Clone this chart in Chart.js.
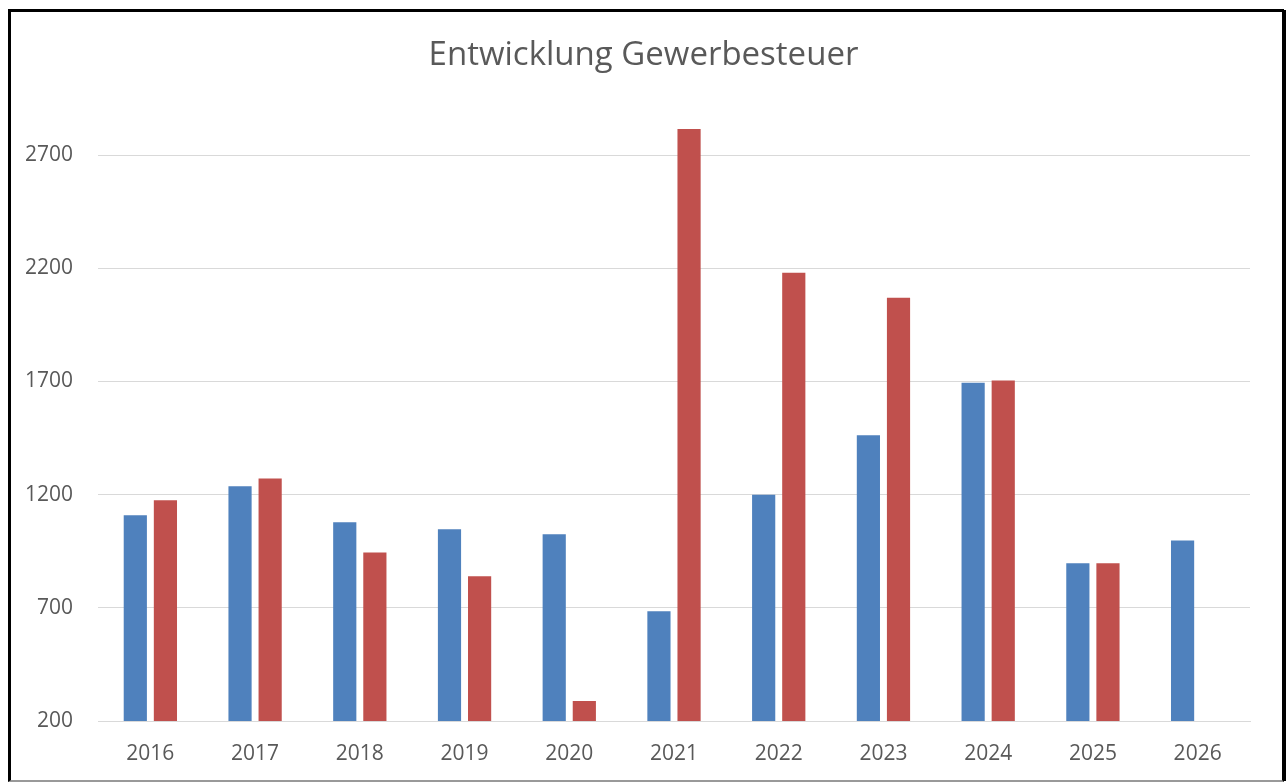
<!DOCTYPE html>
<html>
<head>
<meta charset="utf-8">
<script src="https://cdn.jsdelivr.net/npm/chart.js@4"></script>
<style>
  html, body { margin: 0; padding: 0; background: #fff; }
  #wrap { position: relative; width: 1287px; height: 783px; }
  #frame {
    position: absolute; left: 8px; top: 9px; width: 1271px; height: 768px;
    border-top: 3px solid #000; border-left: 3px solid #000; border-right: 2px solid #000;
    border-bottom: 2px solid #999; box-shadow: 3px 0 0 -1px #000;
    pointer-events: none;
  }
</style>
</head>
<body>
<div id="wrap">
  <canvas id="chart" width="1287" height="783"></canvas>
  <div id="frame"></div>
</div>
<script>
// Werte
let years = ['2016', '2017', '2018', '2019', '2020', '2021', '2022', '2023', '2024', '2025', '2026'];
let seriesBlue = [1109, 1237, 1078, 1047, 1025, 685, 1200, 1462, 1695, 897, 998];
let seriesRed = [1175, 1272, 945, 840, 288, 2816, 2181, 2070, 1704, 897, null];
let yTicks = [200, 700, 1200, 1700, 2200, 2700];

let font = "'Open Sans', 'Liberation Sans', sans-serif";
let grey = '#595959';

// Titel über die ganze Breite zentrieren, nicht nur über den Bereich ohne Padding
let centerTitle = {
    id: 'centerTitle',
    afterLayout: (c) => {
        c.titleBlock.left = 0;
        c.titleBlock.right = c.width;
        c.titleBlock.width = c.width;
    }
};

let ctx = document.querySelector('#chart').getContext('2d');
const chart = new Chart(ctx, {
    type: 'bar',
    data: {
        labels: years,
        datasets: [{
            label: 'Reihe 1',
            data: seriesBlue,
            backgroundColor: '#4f81bd',
            categoryPercentage: 0.575,
            barPercentage: 0.77
        }, {
            label: 'Reihe 2',
            data: seriesRed,
            backgroundColor: '#c0504d',
            categoryPercentage: 0.575,
            barPercentage: 0.77
        }]
    },
    options: {
        responsive: false,
        animation: false,
        layout: { padding: { left: 18, right: 37, top: 0, bottom: 17 } },
        plugins: {
            legend: { display: false },
            tooltip: { enabled: false },
            title: {
                display: true,
                text: 'Entwicklung Gewerbesteuer',
                color: grey,
                font: { family: font, size: 33, weight: 'normal' },
                padding: { top: 36, bottom: 23 }
            }
        },
        scales: {
            x: {
                grid: { display: false },
                border: { color: '#d9d9d9', width: 1 },
                ticks: { color: grey, font: { family: font, size: 21 }, padding: 12 },
                afterFit: (s) => { s.height = 45; }
            },
            y: {
                min: 200,
                max: 2950,
                afterBuildTicks: (s) => { s.ticks = yTicks.map(v => ({ value: v })); },
                grid: { color: '#d9d9d9', lineWidth: 1, drawTicks: false },
                border: { display: false },
                ticks: {
                    color: grey, font: { family: font, size: 21 }, padding: 25,
                    callback: (v) => String(v)
                },
                afterFit: (s) => { s.width = 80; }
            }
        }
    },
    plugins: [centerTitle]
});
</script>
</body>
</html>
